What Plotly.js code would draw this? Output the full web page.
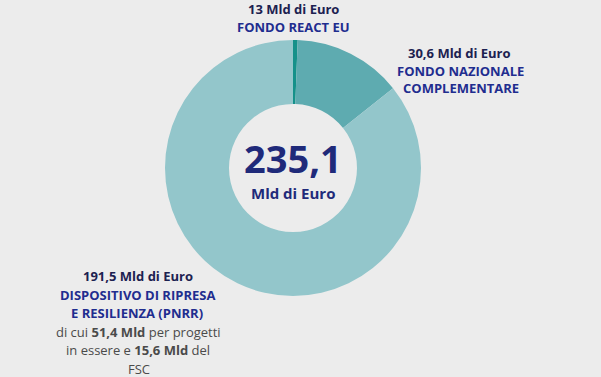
<!DOCTYPE html>
<html>
<head>
<meta charset="utf-8">
<script src="https://cdn.plot.ly/plotly-3.0.1.min.js"></script>
<style>html,body{margin:0;padding:0;background:#ececec;}</style>
</head>
<body>
<div id="chart" style="width:601px;height:377px;"></div>
<script>
// Data (slice sizes as drawn)
const labels = ["FONDO REACT EU", "FONDO NAZIONALE COMPLEMENTARE", "DISPOSITIVO DI RIPRESA E RESILIENZA (PNRR)"];
const values = [1.3, 30.6, 191.5];
const colors = ["#15918a", "#5eabb0", "#93c6cb"];
const totalText = "235,1";
const unitText = "Mld di Euro";

const W = 601, H = 377;
const px = (x) => x / W;
const py = (y) => 1 - y / H;

const dark = "#1c2150";
const blue = "#1f2d8f";
const grey = "#4a4a4a";
const font = "Open Sans, sans-serif";

function ann(text, x, y, size, color) {
  return {text: text, x: px(x), y: py(y), xref: "paper", yref: "paper",
    xanchor: "center", yanchor: "middle", showarrow: false,
    font: {family: font, size: size, color: color}};
}

const annotations = [
  ann("<b>13 Mld di Euro</b>", 293, 9, 13, dark),
  ann("<b>" + labels[0] + "</b>", 293, 26.5, 13, blue),
  ann("<b>30,6 Mld di Euro</b>", 459, 53.5, 13, dark),
  ann("<b>FONDO NAZIONALE</b>", 460, 71, 13, blue),
  ann("<b>COMPLEMENTARE</b>", 461, 88.5, 13, blue),
  ann("<b>" + totalText + "</b>", 293, 158, 38, "#1f2a7a"),
  ann("<b>" + unitText + "</b>", 293, 193, 15, "#1f2a7a"),
  ann("<b>191,5 Mld di Euro</b>", 138, 276, 13, dark),
  ann("<b>DISPOSITIVO DI RIPRESA</b>", 137, 294.5, 13, blue),
  ann("<b>E RESILIENZA (PNRR)</b>", 137, 313, 13, blue),
  ann("di cui <b>51,4 Mld</b> per progetti", 138, 331.5, 13, grey),
  ann("in essere e <b>15,6 Mld</b> del", 138, 350, 13, grey),
  ann("FSC", 139, 368.5, 13, grey)
];

const cx = 293, cy = 168, r = 128;
const trace = {
  type: "pie",
  labels: labels,
  values: values,
  hole: 0.5,
  sort: false,
  direction: "clockwise",
  rotation: 0,
  textinfo: "none",
  hoverinfo: "none",
  marker: {colors: colors, line: {width: 0}},
  domain: {x: [px(cx - r), px(cx + r)], y: [py(cy + r), py(cy - r)]}
};

const layout = {
  width: W, height: H,
  margin: {l: 0, r: 0, t: 0, b: 0},
  paper_bgcolor: "#ececec",
  plot_bgcolor: "#ececec",
  showlegend: false,
  annotations: annotations
};

Plotly.newPlot("chart", [trace], layout, {displayModeBar: false, staticPlot: true});
</script>
</body>
</html>
